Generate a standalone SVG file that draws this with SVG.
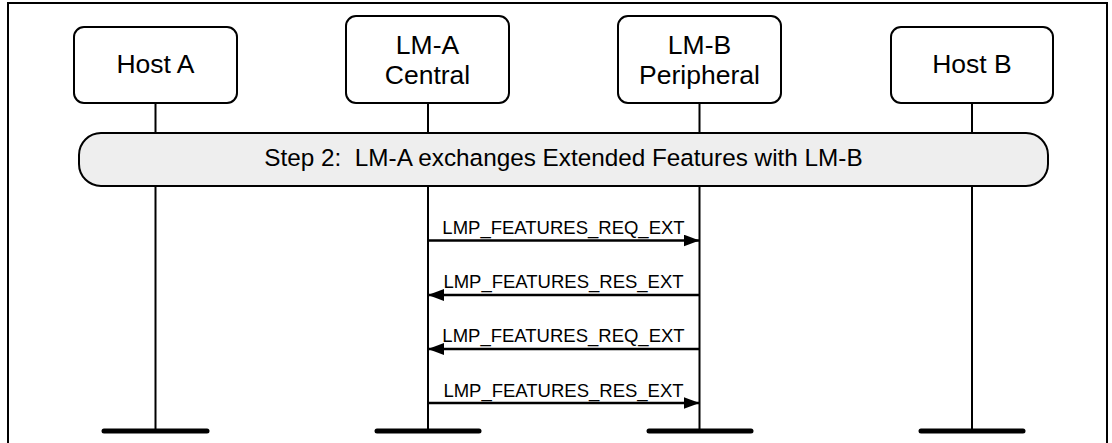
<svg xmlns="http://www.w3.org/2000/svg" width="1112" height="443" viewBox="0 0 1112 443">
<style>
.box{fill:#fff;stroke:#000;stroke-width:2}
.lbl{font-family:"Liberation Sans",Arial,sans-serif;font-size:26.5px;fill:#000;text-anchor:middle}
.life{stroke:#000;stroke-width:2;fill:none}
.bar{stroke:#000;stroke-width:5;stroke-linecap:round}
.msg{stroke:#000;stroke-width:2.5;fill:none}
.mtxt{font-family:"Liberation Sans",Arial,sans-serif;font-size:18.5px;fill:#000;text-anchor:middle}
.step{font-family:"Liberation Sans",Arial,sans-serif;font-size:24.3px;fill:#000;text-anchor:middle}
</style>
<defs>
<marker id="ah" markerWidth="16" markerHeight="12" refX="16" refY="6" orient="auto" markerUnits="userSpaceOnUse">
<path d="M0,0 L16,6 L0,12 Z" fill="#000"/>
</marker>
</defs>
<rect x="8" y="3" width="1099" height="470" fill="#fff" stroke="#000" stroke-width="2"/>
<g id="lifelines">
<line class="life" x1="155.5" y1="103" x2="155.5" y2="431"/>
<line class="life" x1="428" y1="103" x2="428" y2="431"/>
<line class="life" x1="699.5" y1="103" x2="699.5" y2="431"/>
<line class="life" x1="972" y1="103" x2="972" y2="431"/>
<line class="bar" x1="104" y1="431" x2="207" y2="431"/>
<line class="bar" x1="377" y1="431" x2="479" y2="431"/>
<line class="bar" x1="649" y1="431" x2="751" y2="431"/>
<line class="bar" x1="921" y1="431" x2="1023" y2="431"/>
</g>
<g id="hostA">
<rect class="box" x="74" y="27" width="163" height="76" rx="10"/>
<text class="lbl" x="155.5" y="73">Host A</text>
</g>
<g id="lmA">
<rect class="box" x="346" y="16" width="163" height="87" rx="10"/>
<text class="lbl" x="427.5" y="54">LM-A</text>
<text class="lbl" x="427.5" y="84">Central</text>
</g>
<g id="lmB">
<rect class="box" x="618" y="16" width="163" height="87" rx="10"/>
<text class="lbl" x="699.5" y="54">LM-B</text>
<text class="lbl" x="699.5" y="84">Peripheral</text>
</g>
<g id="hostB">
<rect class="box" x="891" y="27" width="162" height="76" rx="10"/>
<text class="lbl" x="972" y="73">Host B</text>
</g>
<g id="step2">
<rect x="79" y="133" width="969" height="53" rx="22" fill="#eeeeee" stroke="#000" stroke-width="2"/>
<text class="step" x="563.5" y="166" xml:space="preserve">Step 2:  LM-A exchanges Extended Features with LM-B</text>
</g>
<g id="connectors">
<line class="msg" x1="428" y1="240.5" x2="699.5" y2="240.5" marker-end="url(#ah)"/>
<text class="mtxt" x="563.5" y="234">LMP_FEATURES_REQ_EXT</text>
<line class="msg" x1="699.5" y1="295" x2="428" y2="295" marker-end="url(#ah)"/>
<text class="mtxt" x="563.5" y="288">LMP_FEATURES_RES_EXT</text>
<line class="msg" x1="699.5" y1="349" x2="428" y2="349" marker-end="url(#ah)"/>
<text class="mtxt" x="563.5" y="342">LMP_FEATURES_REQ_EXT</text>
<line class="msg" x1="428" y1="403" x2="699.5" y2="403" marker-end="url(#ah)"/>
<text class="mtxt" x="563.5" y="397">LMP_FEATURES_RES_EXT</text>
</g>
</svg>
